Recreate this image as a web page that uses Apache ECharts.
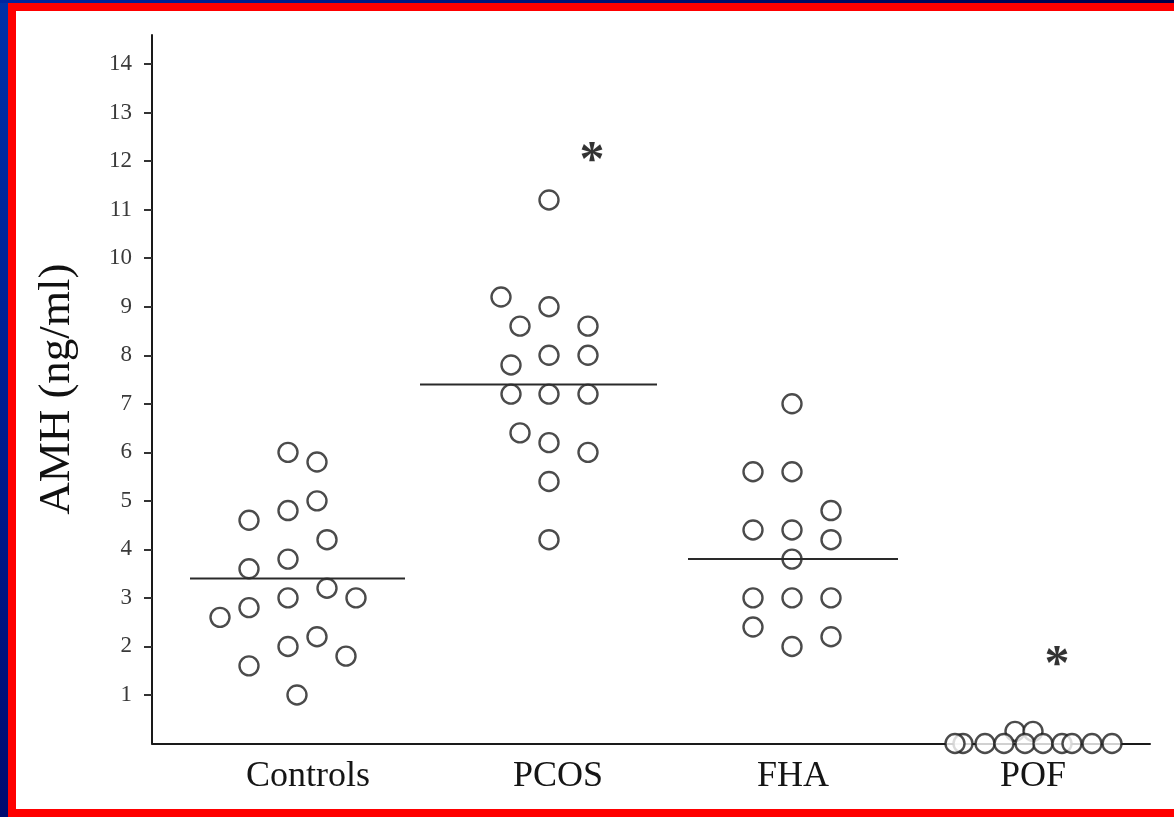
<!DOCTYPE html>
<html>
<head>
<meta charset="utf-8">
<script src="https://cdn.jsdelivr.net/npm/echarts@6/dist/echarts.min.js"></script>
<style>
html,body{margin:0;padding:0;width:1174px;height:817px;overflow:hidden;}
body{background:linear-gradient(to bottom,#0030a8 0%,#001c90 50%,#000a70 100%);}
#frame{position:absolute;left:8px;top:3px;right:0;bottom:0;background:#fff;border-left:8px solid #ff0000;border-top:8px solid #ff0000;border-bottom:8px solid #ff0000;box-sizing:border-box;}
#topband{position:absolute;left:0;top:0;width:1174px;height:3px;background:linear-gradient(to right,#0026a0,#00004a);}
#chart{position:absolute;left:0;top:0;width:1174px;height:817px;}
</style>
</head>
<body>
<div id="topband"></div>
<div id="frame"></div>
<div id="chart"></div>
<script>
// Categories and their label positions (x in axis units)
const categories = ['Controls', 'PCOS', 'FHA', 'POF'];
const categoryCenters = [1.56, 4.06, 6.41, 8.81];
const yTicks = [1, 2, 3, 4, 5, 6, 7, 8, 9, 10, 11, 12, 13, 14];

// Individual values (AMH ng/ml) with horizontal jitter positions
const controlsX = [1.36, 1.65, 1.65, 1.36, 0.97, 1.75, 1.36, 0.97, 1.75, 1.36, 2.04, 0.97, 0.68, 1.65, 1.36, 1.94, 0.97, 1.45];
const controlsY = [6.0, 5.8, 5.0, 4.8, 4.6, 4.2, 3.8, 3.6, 3.2, 3.0, 3.0, 2.8, 2.6, 2.2, 2.0, 1.8, 1.6, 1.0];

const pcosX = [3.97, 3.49, 3.97, 3.68, 4.36, 3.97, 4.36, 3.59, 3.59, 3.97, 4.36, 3.68, 3.97, 4.36, 3.97, 3.97];
const pcosY = [11.2, 9.2, 9.0, 8.6, 8.6, 8.0, 8.0, 7.8, 7.2, 7.2, 7.2, 6.4, 6.2, 6.0, 5.4, 4.2];

const fhaX = [6.40, 6.01, 6.40, 6.79, 6.01, 6.40, 6.79, 6.40, 6.01, 6.40, 6.79, 6.01, 6.79, 6.40];
const fhaY = [7.0, 5.6, 5.6, 4.8, 4.4, 4.4, 4.2, 3.8, 3.0, 3.0, 3.0, 2.4, 2.2, 2.0];

const pofX = [8.63, 8.81, 8.11, 8.03, 8.33, 8.52, 8.73, 8.91, 9.10, 9.20, 9.40, 9.60];
const pofY = [0.25, 0.25, 0, 0, 0, 0, 0, 0, 0, 0, 0, 0];

// Median lines: [xStart, xEnd, value]
const medianStart = [0.38, 2.68, 5.36];
const medianEnd = [2.53, 5.05, 7.46];
const medianValue = [3.4, 7.4, 3.8];

// Significance markers
const starX = [4.40, 9.05];
const starY = [12.2, 1.82];

const serif = "'Liberation Serif', 'Times New Roman', serif";
const pair = (xs, ys) => xs.map((x, i) => [x, ys[i]]);

const circleStyle = {
  color: '#ffffff',
  borderColor: '#1e1e1e',
  borderWidth: 2.4
};

const scatterSeries = [[controlsX, controlsY], [pcosX, pcosY], [fhaX, fhaY], [pofX, pofY]].map((d, i) => ({
  name: categories[i],
  type: 'scatter',
  symbol: 'circle',
  symbolSize: 19,
  clip: false,
  itemStyle: circleStyle,
  data: pair(d[0], d[1]),
  z: 3
}));

const medianData = [];
medianValue.forEach((v, i) => {
  medianData.push([medianStart[i], v]);
  medianData.push([medianEnd[i], v]);
  medianData.push('-');
});

const option = {
  backgroundColor: 'transparent',
  animation: false,
  grid: { left: 152, right: 24, top: 35, bottom: 73.5, containLabel: false },
  xAxis: {
    type: 'value',
    min: 0,
    max: 9.98,
    axisLine: { show: true, onZero: false, lineStyle: { color: '#1a1a1a', width: 2 } },
    axisTick: { show: false },
    splitLine: { show: false },
    axisLabel: {
      customValues: categoryCenters,
      formatter: (v) => {
        const i = categoryCenters.findIndex(c => Math.abs(c - v) < 1e-6);
        return i >= 0 ? categories[i] : '';
      },
      fontFamily: serif,
      fontSize: 36,
      color: '#151515',
      margin: 15
    }
  },
  yAxis: {
    type: 'value',
    min: 0,
    max: 14.6,
    name: 'AMH (ng/ml)',
    nameLocation: 'middle',
    nameGap: 72,
    nameRotate: 90,
    nameTextStyle: { fontFamily: serif, fontSize: 45, color: '#111' },
    axisLine: { show: true, lineStyle: { color: '#1a1a1a', width: 2 } },
    axisTick: { show: true, inside: false, length: 8, customValues: yTicks, lineStyle: { color: '#333', width: 2 } },
    splitLine: { show: false },
    axisLabel: {
      customValues: yTicks,
      fontFamily: serif,
      fontSize: 23,
      color: '#3a3a3a',
      margin: 20
    }
  },
  series: [
    {
      name: 'median',
      type: 'line',
      data: medianData,
      connectNulls: false,
      symbol: 'none',
      lineStyle: { color: '#2a2a2a', width: 2 },
      z: 4
    },
    ...scatterSeries,
    {
      name: 'significance',
      type: 'scatter',
      symbolSize: 1,
      itemStyle: { color: 'transparent' },
      data: pair(starX, starY),
      label: {
        show: true,
        position: 'inside',
        formatter: '*',
        fontFamily: serif,
        fontWeight: 'bold',
        fontSize: 50,
        color: '#000',
        offset: [0, 11]
      },
      z: 5
    }
  ]
};

const chart = echarts.init(document.getElementById('chart'), null, { renderer: 'canvas' });
chart.setOption(option);
</script>
</body>
</html>
